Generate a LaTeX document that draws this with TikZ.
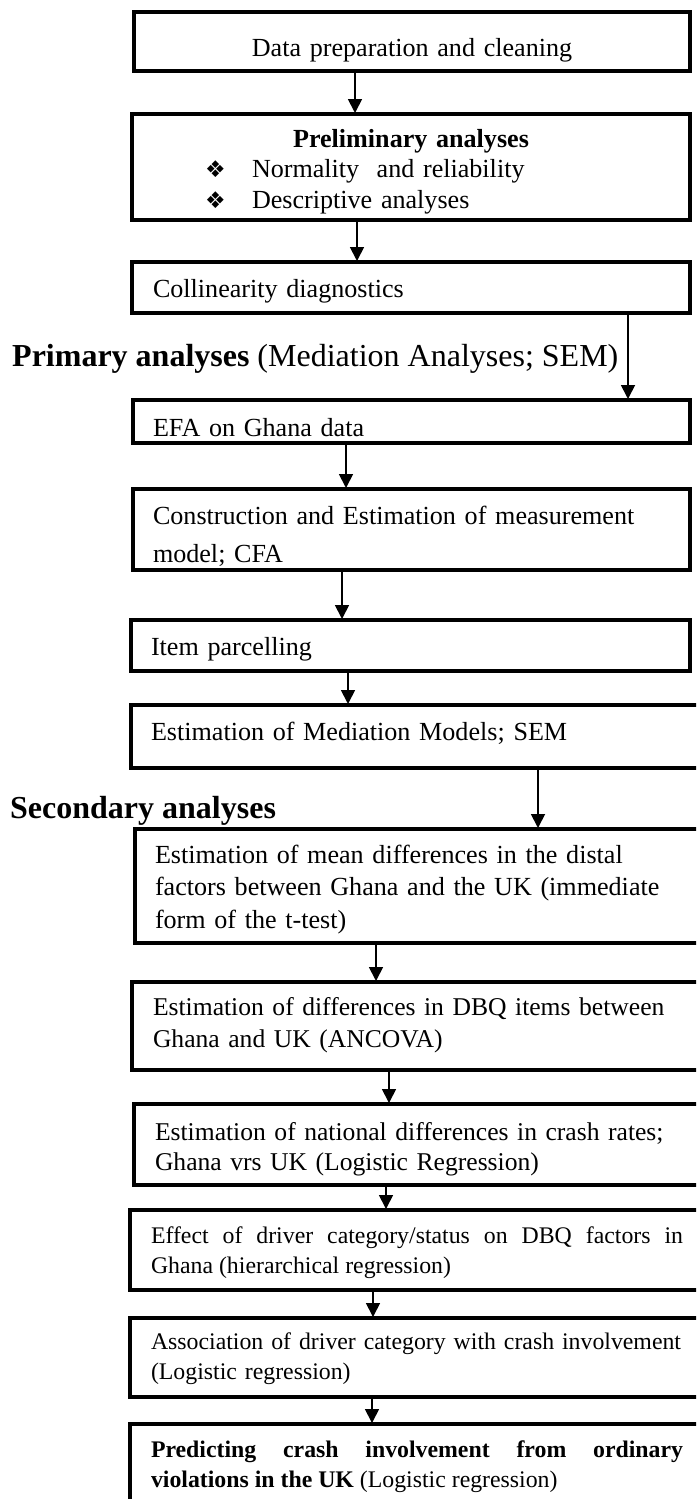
\documentclass[tikz,border=0pt]{standalone}
\usepackage{fontspec}
\setmainfont{Liberation Serif}
\newfontfamily\symbolfont{DejaVu Sans}
\usetikzlibrary{arrows.meta}

% bullet of the preliminary box
\newcommand{\bul}{\makebox[99pt][l]{\hspace{52pt}{\symbolfont\fontsize{23}{23}\selectfont ❖}}}

\begin{document}
\begin{tikzpicture}[x=1pt, y=-1pt,
    box/.style={draw, line width=3.6pt, rectangle, anchor=north west,
      outer sep=0pt, inner ysep=0pt, inner xsep=21pt, text width=516pt,
      align=left, font=\fontsize{26.1}{32.5}\selectfont},
    small/.style={font=\fontsize{23.8}{30}\selectfont},
    heading/.style={anchor=base west, inner sep=0pt, font=\fontsize{32}{38}\selectfont},
    flow/.style={line width=1.8pt, -{Triangle[length=14pt,width=14pt]}, shorten >=1pt},
    ]
    \useasboundingbox (0,0) rectangle (696,1499);
    \fill[white] (0,0) rectangle (696,1499);
    \clip (0,0) rectangle (696,1499);

    \node[box, align=center, inner xsep=20pt, text height=44pt, text depth=15pt] (prep) at (134,12)
      {Data preparation and cleaning};
    \node[box, text height=33pt, text depth=73pt, font=\fontsize{26.1}{30.5}\selectfont] (prelim) at (132,114)
      {\makebox[516pt]{\bfseries Preliminary analyses}\\
       \bul Normality\ \ and reliability\\
       \bul Descriptive analyses};
    \node[box, text height=35pt, text depth=16pt] (colin) at (132,262) {Collinearity diagnostics};

    \node[heading] (primary) at (12,366) {\textbf{Primary analyses} (Mediation Analyses; SEM)};

    \node[box, inner xsep=20pt, text width=517pt, text height=36pt, text depth=7pt] (efa) at (133,400)
      {EFA on Ghana data};
    \node[box, inner xsep=20pt, text width=517pt, text height=35pt, text depth=46pt,
      font=\fontsize{26.1}{38}\selectfont] (cfa) at (133,489)
      {Construction and Estimation of measurement\\ model; CFA};
    \node[box, inner xsep=20pt, text width=519pt, text height=35pt, text depth=16pt] (parcel) at (131,620)
      {Item parcelling};
    \node[box, inner xsep=20pt, text width=549pt, text height=35pt, text depth=28pt] (sem) at (131,705)
      {Estimation of Mediation Models; SEM};

    \node[heading] (secondary) at (10,818) {\textbf{Secondary analyses}};

    \node[box, inner xsep=20pt, text width=545pt, text height=34pt, text depth=80pt] (mean) at (135,829)
      {Estimation of mean differences in the distal\\ factors between Ghana and the UK (immediate\\ form of the t-test)};
    \node[box, text width=546pt, text height=33pt, text depth=55pt, font=\fontsize{25.6}{32}\selectfont] (dbq) at (132,982)
      {Estimation of differences in DBQ items between\\ Ghana and UK (ANCOVA)};
    \node[box, text width=544pt, text height=36pt, text depth=45pt, font=\fontsize{25.6}{30}\selectfont] (crash) at (134,1104)
      {Estimation of national differences in crash rates;\\ Ghana vrs UK (Logistic Regression)};
    \node[box, small, align=justify, text width=532pt, text height=33pt, text depth=47pt] (status) at (130,1210)
      {Effect of driver category/status on DBQ factors in\linebreak Ghana (hierarchical regression)};
    \node[box, small, text width=548pt, text height=31pt, text depth=48pt] (assoc) at (130,1318)
      {Association of driver category with crash involvement\\ (Logistic regression)};
    \node[box, small, align=justify, text width=532pt, text height=33pt, text depth=73pt] (predict) at (130,1424)
      {\textbf{Predicting crash involvement from ordinary}\linebreak \textbf{violations in the UK} (Logistic regression)};

    \draw[flow] ([xshift=221pt]prep.south west) -- ([xshift=223pt]prelim.north west);
    \draw[flow] ([xshift=225pt]prelim.south west) -- ([xshift=225pt]colin.north west);
    \draw[flow] ([xshift=496pt]colin.south west) -- ([xshift=495pt]efa.north west);
    \draw[flow] ([xshift=213pt]efa.south west) -- ([xshift=213pt]cfa.north west);
    \draw[flow] ([xshift=209pt]cfa.south west) -- ([xshift=211pt]parcel.north west);
    \draw[flow] ([xshift=217pt]parcel.south west) -- ([xshift=217pt]sem.north west);
    \draw[flow] ([xshift=407pt]sem.south west) -- ([xshift=403pt]mean.north west);
    \draw[flow] ([xshift=241pt]mean.south west) -- ([xshift=244pt]dbq.north west);
    \draw[flow] ([xshift=257pt]dbq.south west) -- ([xshift=255pt]crash.north west);
    \draw[flow] ([xshift=252pt]crash.south west) -- ([xshift=256pt]status.north west);
    \draw[flow] ([xshift=243pt]status.south west) -- ([xshift=243pt]assoc.north west);
    \draw[flow] ([xshift=242pt]assoc.south west) -- ([xshift=242pt]predict.north west);
\end{tikzpicture}
\end{document}
